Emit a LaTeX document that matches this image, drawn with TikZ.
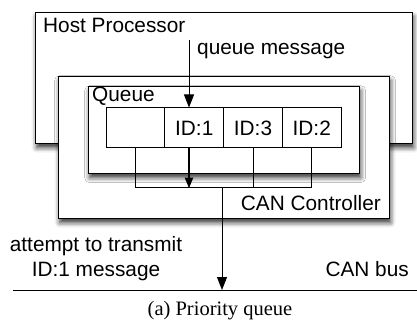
\documentclass[tikz,border=0pt]{standalone}
\usepackage{fontspec}
\setmainfont{Liberation Sans}
\newfontfamily\captionfont{Liberation Serif}
\usetikzlibrary{arrows.meta,shadows.blur}

\begin{document}
\begin{tikzpicture}[x=1pt,y=-1pt,
  font=\fontsize{20.8}{25}\selectfont,
  box/.style={draw=black, line width=1.3pt, fill=white, inner sep=0pt,
    anchor=north west,
    blur shadow={shadow xshift=1pt, shadow yshift=-4pt,
      shadow blur radius=5pt, shadow opacity=80}},
  cell/.style={draw=black, line width=1pt, fill=white, inner sep=0pt,
    minimum width=58.75pt, minimum height=40pt},
  label/.style={inner sep=0pt},
  link/.style={line width=1pt},
  arrow/.style={line width=1pt, -{Triangle[width=10pt,length=13pt]}},
  bold arrow/.style={line width=2.4pt, -{Triangle[width=8pt,length=11pt]}}
]
\useasboundingbox (0,0) rectangle (417,323);

% nested containers
\node[box, minimum width=377pt, minimum height=131pt] (host) at (35,12) {};
\node[box, minimum width=331pt, minimum height=142pt] (ctrl) at (58,76) {};
\node[box, minimum width=271pt, minimum height=87pt] (queue) at (88,86) {};

% container titles
\node[label, anchor=base west] (hostlbl) at (43,33) {Host Processor};
\node[label, anchor=base west] (queuelbl) at (92,101.5) {Queue};
\node[label, anchor=base east] (ctrllbl) at (381,210) {CAN Controller};

% queue slots
\node[cell] (c0) at (135.5,128) {};
\node[cell] (c1) at (194.25,128) {ID:1};
\node[cell] (c2) at (253,128) {ID:3};
\node[cell] (c3) at (311.75,128) {ID:2};

% incoming message
\coordinate (qin) at (189,40);
\node[label, anchor=base west] (qmsg) at (197,55) {queue message};
\draw[arrow] (qin) -- (qin |- c1.north);

% arbitration lines below the slots
\coordinate (join) at (222,187);
\draw[link] (c0.south) -- (c0.south |- join) -- (c3.south |- join) -- (c3.south);
\draw[link] (c2.south) -- (c2.south |- join);
\coordinate (pick) at (189,148);
\draw[bold arrow] (pick) -- ([yshift=-1.5pt]pick |- join);

% CAN bus
\coordinate (busL) at (13,290);
\coordinate (busR) at (417,290);
\draw[link] (busL) -- (busR);
\draw[arrow] (join) -- (join |- busL);

\node[label, align=center, anchor=base] (tx) at (96,276.5)
  {attempt to transmit\\ID:1 message};
\node[label, anchor=base east] (buslbl) at (409,276.5) {CAN bus};

% caption
\node[label, anchor=base, font=\captionfont\fontsize{20.5}{24}\selectfont]
  (cap) at (220,315.5) {(a) Priority queue};
\end{tikzpicture}
\end{document}
